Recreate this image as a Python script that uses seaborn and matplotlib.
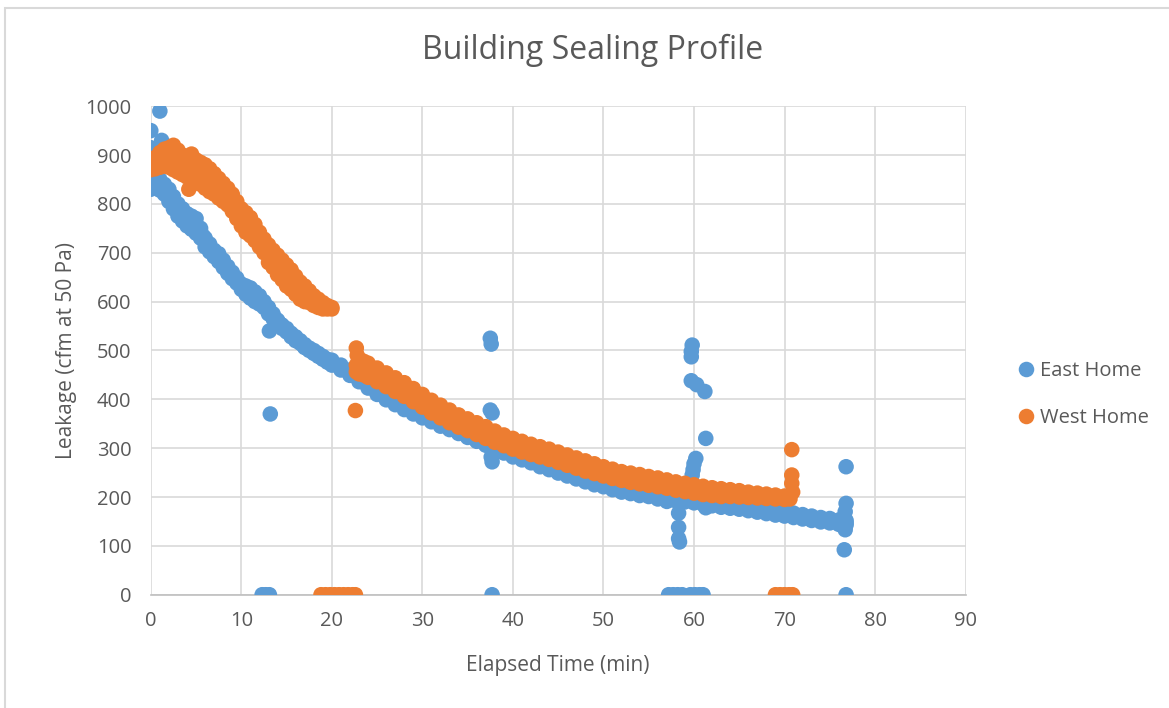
import pandas as pd
import seaborn as sns
import matplotlib.pyplot as plt
from matplotlib.patches import Rectangle

# East Home readings (min, cfm at 50 Pa): main curve, then stray readings and dropouts
east_time = [0.0, 0.0, 0.0, 0.5, 0.5, 1.0, 1.0, 1.5, 1.5, 2.0, 2.0, 2.5, 2.5, 3.0, 3.0,
             3.5, 3.5, 4.0, 4.0, 4.5, 4.5, 5.0, 5.0, 5.5, 5.5, 6.0, 6.0, 6.5, 6.5, 7.0, 7.0,
             7.5, 7.5, 8.0, 8.0, 8.5, 8.5, 9.0, 9.0, 9.5, 9.5, 10.0, 10.0, 10.5, 10.5,
             11.0, 11.0, 11.5, 11.5, 12.0, 12.0, 12.5, 12.5, 13.0, 13.0, 13.5, 13.5,
             14.0, 14.0, 14.5, 14.5, 15.0, 15.0, 15.5, 15.5, 16.0, 16.0, 16.5, 16.5,
             17.0, 17.0, 17.5, 17.5, 18.0, 18.0, 18.5, 18.5, 19.0, 19.0, 19.5, 19.5,
             0.25, 0.75, 1.25, 1.75, 2.25, 2.75, 3.25, 3.75, 4.25, 4.75,
             5.25, 5.75, 6.25, 6.75, 7.25, 7.75, 8.25, 8.75, 9.25, 9.75,
             10.25, 10.75, 11.25, 11.75, 12.25, 12.75, 13.25, 13.75, 14.25, 14.75,
             15.25, 15.75, 16.25, 16.75, 17.25, 17.75, 18.25, 18.75, 19.25, 19.75,
             20, 20, 21, 21, 22, 22, 23, 23, 24, 24, 25, 25, 26, 26, 27, 27, 28, 28,
             29, 29, 30, 30, 31, 31, 32, 32, 33, 33, 34, 34, 35, 35, 36, 36, 37, 37,
             38, 38, 39, 39, 40, 40, 41, 41, 42, 42, 43, 43, 44, 44, 45, 45, 46, 46,
             47, 47, 48, 48, 49, 49, 50, 50, 51, 51, 52, 52, 53, 53, 54, 54, 55, 55,
             56, 56, 57, 57, 58, 58, 59, 59, 60, 60, 61, 61, 62, 62, 63, 63, 64, 64,
             65, 65, 66, 66, 67, 67, 68, 68, 69, 69, 70, 70, 71, 71, 72, 72, 73, 73,
             74, 74, 75, 75, 76, 76, 76.8, 76.8,
             0.0, 0.0, 1.0, 1.2, 13.1, 13.2, 37.5, 37.6, 37.5, 37.7, 37.6, 37.7,
             58.3, 58.3, 58.3, 58.4, 59.8, 59.7, 59.7, 59.7, 60.3, 61.2, 61.3,
             60.2, 60.0, 59.9, 59.8, 61.3, 76.8, 76.8, 76.7, 76.8, 76.7, 76.6,
             12.3, 12.7, 13.1, 37.7, 57.2, 57.7, 58.2, 58.7, 59.6, 60.1, 60.6, 61.0, 76.8]
east_leak = [870, 845, 830, 860, 835, 850, 828, 840, 820, 830, 805, 815, 790, 800, 775,
             790, 765, 780, 755, 775, 748, 770, 740, 750, 730, 730, 712, 718, 702, 705, 692,
             698, 682, 685, 670, 672, 658, 660, 647, 648, 638, 636, 625, 632, 615,
             628, 607, 620, 600, 612, 595, 600, 588, 588, 575, 575, 565,
             562, 552, 552, 545, 545, 538, 535, 528, 528, 520, 520, 515,
             512, 506, 505, 500, 500, 494, 494, 488, 488, 482, 482, 476,
             850, 842, 835, 825, 812, 798, 785, 775, 765, 760,
             752, 735, 718, 705, 695, 685, 672, 660, 650, 638,
             628, 620, 615, 608, 600, 590, 577, 565, 555, 545,
             538, 528, 520, 512, 505, 500, 493, 487, 482, 477,
             480, 470, 470, 460, 460, 449, 447, 436, 434, 423, 421, 410, 410, 399, 400, 389, 390, 379,
             382, 370, 374, 362, 366, 354, 357, 345, 350, 338, 342, 330, 334, 322, 326, 314, 318, 306,
             308, 296, 302, 290, 294, 282, 288, 276, 282, 270, 274, 262, 268, 256, 260, 249, 254, 243,
             248, 237, 242, 231, 236, 225, 232, 221, 226, 215, 220, 210, 217, 207, 214, 203, 212, 201,
             207, 196, 202, 191, 200, 192, 199, 190, 197, 188, 193, 185, 191, 182, 188, 179, 187, 177,
             185, 175, 182, 172, 179, 169, 176, 166, 173, 163, 170, 161, 167, 158, 164, 155, 161, 152,
             158, 149, 156, 147, 153, 144, 152, 143,
             950, 915, 990, 930, 540, 370, 525, 513, 378, 372, 282, 272,
             167, 138, 115, 108, 511, 498, 487, 438, 430, 416, 320,
             279, 268, 256, 245, 178, 262, 187, 170, 147, 133, 92,
             0, 0, 0, 0, 0, 0, 0, 0, 0, 0, 0, 0, 0]

# West Home readings
west_time = [0.0, 0.0, 0.5, 0.5, 1.0, 1.0, 1.5, 1.5, 2.0, 2.0, 2.5, 2.5, 3.0, 3.0,
             3.5, 3.5, 4.0, 4.0, 4.5, 4.5, 5.0, 5.0, 5.5, 5.5, 6.0, 6.0, 6.5, 6.5, 7.0, 7.0,
             7.5, 7.5, 8.0, 8.0, 8.5, 8.5, 9.0, 9.0, 9.5, 9.5, 10.0, 10.0, 10.5, 10.5,
             11.0, 11.0, 11.5, 11.5, 12.0, 12.0, 12.5, 12.5, 13.0, 13.0, 13.5, 13.5,
             14.0, 14.0, 14.5, 14.5, 15.0, 15.0, 15.5, 15.5, 16.0, 16.0, 16.5, 16.5,
             17.0, 17.0, 17.5, 17.5, 18.0, 18.0, 18.5, 18.5, 19.0, 19.0, 19.5, 19.5, 20.0, 20.0,
             0.25, 0.75, 1.25, 1.75, 2.25, 2.75, 3.25, 3.75, 4.25, 4.75,
             5.25, 5.75, 6.25, 6.75, 7.25, 7.75, 8.25, 8.75, 9.25, 9.75,
             10.25, 10.75, 11.25, 11.75, 12.25, 12.75, 13.25, 13.75, 14.25, 14.75,
             15.25, 15.75, 16.25, 16.75, 17.25, 17.75, 18.25, 18.75, 19.25, 19.75,
             22.7, 22.7, 23.0, 23.0, 23.5, 23.5, 24, 24, 25, 25, 26, 26, 27, 27, 28, 28,
             29, 29, 30, 30, 31, 31, 32, 32, 33, 33, 34, 34, 35, 35, 36, 36, 37, 37,
             38, 38, 39, 39, 40, 40, 41, 41, 42, 42, 43, 43, 44, 44, 45, 45, 46, 46,
             47, 47, 48, 48, 49, 49, 50, 50, 51, 51, 52, 52, 53, 53, 54, 54, 55, 55,
             56, 56, 57, 57, 58, 58, 59, 59, 60, 60, 61, 61, 62, 62, 63, 63, 64, 64,
             65, 65, 66, 66, 67, 67, 68, 68, 69, 69, 70, 70, 70.6, 70.6,
             4.2, 22.7, 22.8, 22.6, 70.8, 70.8, 70.8, 70.9,
             18.8, 19.3, 19.8, 20.3, 20.8, 21.3, 21.8, 22.3, 22.6,
             69.0, 69.5, 70.0, 70.5, 70.9]
west_leak = [890, 870, 895, 872, 905, 875, 912, 878, 915, 875, 920, 870, 910, 865,
             900, 860, 895, 855, 902, 855, 890, 845, 885, 840, 880, 832, 872, 825, 862, 820,
             852, 812, 842, 805, 832, 798, 820, 785, 805, 770, 790, 755, 782, 742,
             772, 735, 758, 725, 742, 712, 728, 700, 716, 680, 705, 670,
             695, 655, 685, 645, 675, 632, 665, 625, 652, 615, 640, 605,
             632, 600, 622, 598, 612, 592, 605, 588, 598, 585, 592, 585, 588, 585,
             882, 888, 892, 895, 898, 895, 888, 880, 878, 875,
             868, 862, 855, 848, 840, 832, 822, 812, 800, 785,
             770, 760, 752, 740, 726, 712, 698, 688, 675, 662,
             652, 645, 632, 622, 615, 608, 600, 595, 590, 588,
             470, 456, 482, 452, 478, 450, 474, 445, 464, 436, 454, 426, 444, 416, 434, 406,
             422, 395, 410, 384, 398, 372, 388, 362, 378, 352, 368, 343, 360, 336, 352, 328, 344, 320,
             335, 312, 327, 305, 320, 298, 314, 292, 308, 287, 303, 282, 298, 277, 292, 271, 286, 265,
             280, 259, 274, 253, 268, 248, 262, 243, 257, 238, 252, 234, 249, 230, 246, 227, 242, 224,
             239, 221, 235, 218, 231, 214, 228, 211, 225, 208, 222, 205, 219, 203, 217, 201, 215, 201,
             213, 200, 210, 199, 208, 198, 206, 197, 204, 196, 202, 195, 203, 196,
             830, 505, 490, 377, 297, 245, 228, 210,
             0, 0, 0, 0, 0, 0, 0, 0, 0,
             0, 0, 0, 0, 0]

series_names = ['East Home', 'West Home']
series_colors = ['#5B9BD5', '#ED7D31']
x_ticks = list(range(0, 91, 10))
y_ticks = list(range(0, 1001, 100))


def main():
    data = pd.concat([
        pd.DataFrame({'time': east_time, 'leak': east_leak, 'home': series_names[0]}),
        pd.DataFrame({'time': west_time, 'leak': west_leak, 'home': series_names[1]}),
    ], ignore_index=True)

    sns.set_style('white')
    plt.rcParams['font.family'] = ['Open Sans', 'DejaVu Sans']
    grey = '#595959'

    fig = plt.figure(figsize=(11.69, 7.08), dpi=100)
    ax = fig.add_axes([0.129, 0.160, 0.697, 0.690])

    # light chart-area border like the spreadsheet export
    fig.patches.append(Rectangle((5 / 1169, -0.1), 1.2, 1.1 - 8 / 708,
                                 transform=fig.transFigure, fill=False,
                                 edgecolor='#D9D9D9', linewidth=1.5))

    sns.scatterplot(data=data, x='time', y='leak', hue='home',
                    palette=dict(zip(series_names, series_colors)),
                    s=125, linewidth=0, alpha=1, ax=ax, zorder=3)

    ax.set_xlim(0, 90)
    ax.set_ylim(0, 1000)
    ax.set_xticks(x_ticks)
    ax.set_yticks(y_ticks)
    ax.grid(True, color='#D9D9D9', linewidth=1.2)
    ax.set_axisbelow(True)
    for side in ['top', 'right', 'left']:
        ax.spines[side].set_visible(False)
    ax.spines['bottom'].set_color('#BFBFBF')
    ax.spines['bottom'].set_linewidth(1.2)
    ax.tick_params(axis='both', length=0, labelsize=14.5, labelcolor=grey)
    ax.tick_params(axis='x', pad=12)
    ax.tick_params(axis='y', pad=14)

    ax.set_xlabel('Elapsed Time (min)', fontsize=15, color=grey, labelpad=17)
    ax.set_ylabel('Leakage (cfm at 50 Pa)', fontsize=15, color=grey, labelpad=6)
    # title is centred on the whole chart area, not the plot area
    fig.suptitle('Building Sealing Profile', x=0.507, y=0.929, va='center',
                 fontsize=23, color=grey)

    sns.move_legend(ax, 'center left', bbox_to_anchor=(1.052, 0.41), frameon=False,
                    title=None, fontsize=14.5, labelspacing=1.35, handlelength=1.0,
                    handletextpad=0.2, borderaxespad=0.0, markerscale=1.0)
    for text in ax.get_legend().get_texts():
        text.set_color(grey)

    plt.savefig('out.png', dpi=100)


if __name__ == '__main__':
    main()
